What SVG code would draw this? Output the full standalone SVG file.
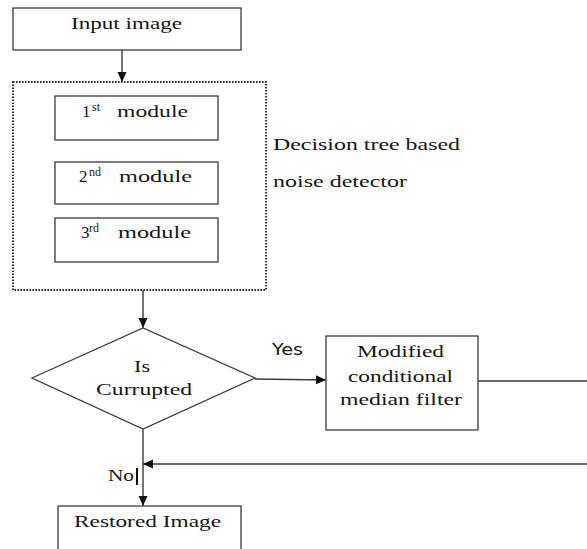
<svg xmlns="http://www.w3.org/2000/svg" width="587" height="549" viewBox="0 0 587 549">
<style>
.box{fill:#fff;stroke:#3a3a3a;stroke-width:1.3}
.dot{fill:none;stroke:#333;stroke-width:2;stroke-dasharray:1.6 1.4}
.ln{fill:none;stroke:#3a3a3a;stroke-width:1.4}
.t{font-size:17px;fill:#161616}
.c{text-anchor:middle}
.sup{font-size:12px}
.s{font-size:15px;fill:#161616}
</style>
<defs>
<marker id="ah" markerWidth="10" markerHeight="10" refX="10" refY="5" orient="auto" markerUnits="userSpaceOnUse">
<path d="M0,0.5 L10,5 L0,9.5 z" fill="#111"/>
</marker>
</defs>
<rect width="587" height="549" fill="#fff"/>
<g font-family="Liberation Serif, DejaVu Serif, serif">
<g id="connectors">
<line class="ln" x1="122" y1="50" x2="122" y2="82" marker-end="url(#ah)"/>
<line class="ln" x1="143" y1="290" x2="143" y2="328" marker-end="url(#ah)"/>
<line class="ln" x1="255" y1="379" x2="326" y2="380" marker-end="url(#ah)"/>
<line class="ln" x1="478" y1="381" x2="587" y2="381"/>
<line class="ln" x1="587" y1="464" x2="143" y2="464" marker-end="url(#ah)"/>
<line class="ln" x1="143" y1="429" x2="143" y2="506" marker-end="url(#ah)"/>
<text class="s" font-family="DejaVu Sans, sans-serif" x="272" y="355" textLength="31" lengthAdjust="spacingAndGlyphs">Yes</text>
<text class="t" x="108" y="481" textLength="26" lengthAdjust="spacingAndGlyphs">No</text>
<line x1="137" y1="468" x2="137" y2="485" stroke="#111" stroke-width="2"/>
</g>
<g id="input">
<rect class="box" x="13" y="8" width="228" height="42"/>
<text class="t c" x="126.5" y="29" textLength="111" lengthAdjust="spacingAndGlyphs">Input image</text>
</g>
<g id="detector">
<rect class="dot" x="13" y="82" width="253" height="208"/>
<text class="t" x="273" y="150" textLength="187" lengthAdjust="spacingAndGlyphs">Decision tree based</text>
<text class="t" x="273" y="187" textLength="134" lengthAdjust="spacingAndGlyphs">noise detector</text>
</g>
<g id="module1">
<rect class="box" x="55" y="96" width="163" height="44"/>
<text class="t" y="117"><tspan x="82">1</tspan><tspan class="sup" x="92" y="111">st</tspan><tspan x="117" y="117" textLength="71" lengthAdjust="spacingAndGlyphs">module</tspan></text>
</g>
<g id="module2">
<rect class="box" x="55" y="162" width="163" height="42"/>
<text class="t" y="182"><tspan x="79">2</tspan><tspan class="sup" x="89" y="176">nd</tspan><tspan x="119" y="182" textLength="73" lengthAdjust="spacingAndGlyphs">module</tspan></text>
</g>
<g id="module3">
<rect class="box" x="55" y="218" width="163" height="44"/>
<text class="t" y="238"><tspan x="81">3</tspan><tspan class="sup" x="89" y="232">rd</tspan><tspan x="118" y="238" textLength="73" lengthAdjust="spacingAndGlyphs">module</tspan></text>
</g>
<g id="decision">
<polygon class="box" points="32,378 143,328 255,378 143,429"/>
<text class="t c" x="142" y="372" textLength="16" lengthAdjust="spacingAndGlyphs">Is</text>
<text class="t c" x="144" y="395" textLength="96" lengthAdjust="spacingAndGlyphs">Currupted</text>
</g>
<g id="filter">
<rect class="box" x="326" y="336" width="152" height="94"/>
<text class="t c" x="400.5" y="357" textLength="87" lengthAdjust="spacingAndGlyphs">Modified</text>
<text class="t c" x="400.5" y="382" textLength="105" lengthAdjust="spacingAndGlyphs">conditional</text>
<text class="t c" x="401" y="405" textLength="122" lengthAdjust="spacingAndGlyphs">median filter</text>
</g>
<g id="restored">
<rect class="box" x="58" y="506" width="183" height="60"/>
<text class="t c" x="147.5" y="527" textLength="147" lengthAdjust="spacingAndGlyphs">Restored Image</text>
</g>
</g>
</svg>
